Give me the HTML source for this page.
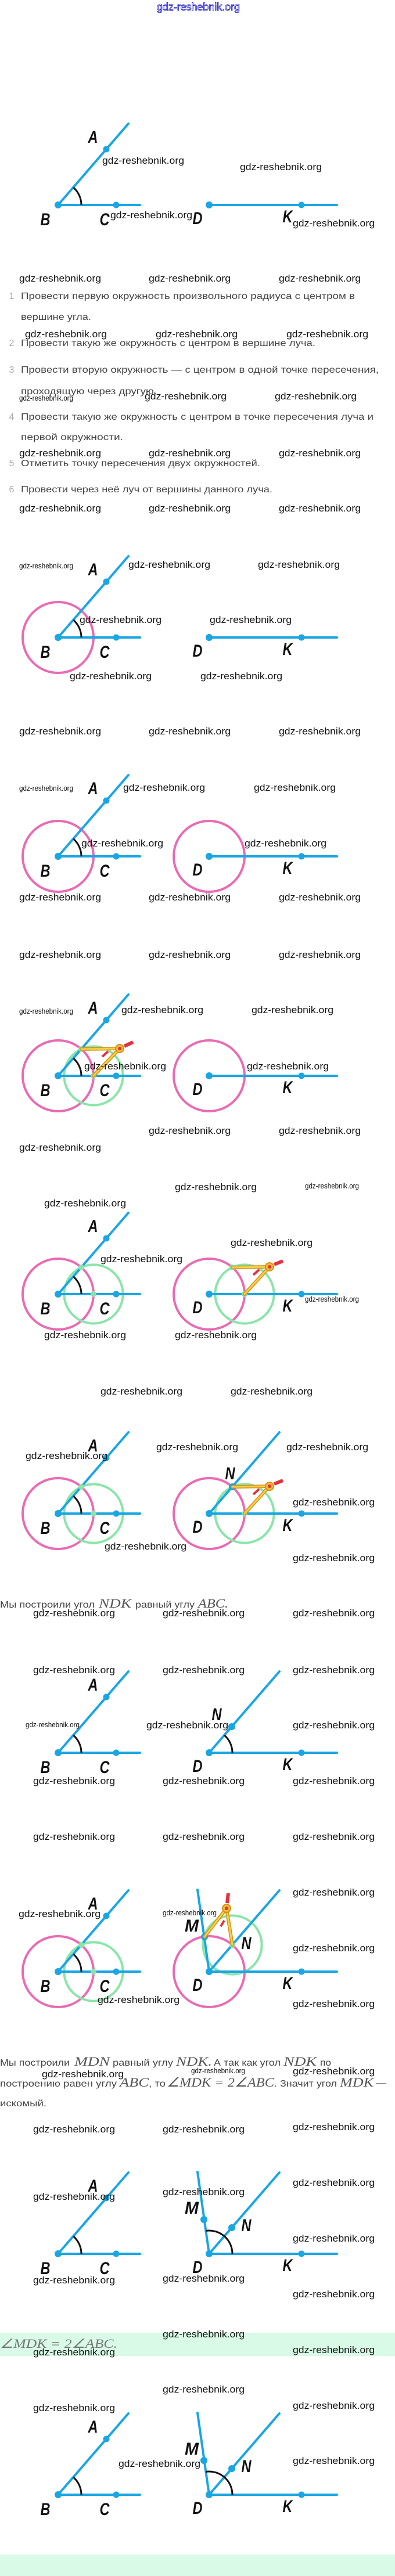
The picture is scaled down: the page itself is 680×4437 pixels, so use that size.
<!DOCTYPE html>
<html><head><meta charset="utf-8"><style>
html,body{margin:0;padding:0;background:#fff;}
svg{display:block;}
.b{stroke:#19a6e3;stroke-width:4;stroke-linecap:round;fill:none}
.bd{fill:#19a6e3}
.k{stroke:#111;stroke-width:3;fill:none}
.p{stroke:#ea6ab4;stroke-width:4;fill:none}
.g{stroke:#8ae5a8;stroke-width:4;fill:none}
.gd{fill:#8ae5a8}
.L{font-family:"Liberation Sans",sans-serif;font-weight:bold;font-style:italic;font-size:30px;fill:#111;text-anchor:middle}
.w{font-family:"Liberation Sans",sans-serif;font-size:17px;fill:#111}
.ws{font-size:13px}
.t{font-family:"Liberation Sans","DejaVu Sans",sans-serif;font-size:16px;fill:#444}
.n{fill:#aaa}
.m{font-family:"Liberation Serif",serif;font-style:italic;font-size:22px;fill:#555}
.co{stroke:#d4931c;stroke-width:6;stroke-linecap:round;fill:none}
.ci{stroke:#f6cf48;stroke-width:3;stroke-linecap:round;fill:none}
.cr{stroke:#e2323e;stroke-width:6;fill:none}
.cm{stroke:#e2323e;stroke-width:4;fill:none}
</style></head><body>
<svg width="680" height="4437" viewBox="0 0 680 4437" xmlns="http://www.w3.org/2000/svg">
<rect x="0" y="0" width="680" height="4437" fill="#fff"/>
<rect x="0" y="4018" width="680" height="40" fill="#d8fae6"/>
<rect x="0" y="4400" width="680" height="37" fill="#d8fae6"/>

<!-- top watermark -->
<text x="270" y="18" textLength="143" lengthAdjust="spacingAndGlyphs" style="font-family:'Liberation Sans',sans-serif;font-size:18px;fill:#fff;stroke:#2424c8;stroke-width:0.9">gdz-reshebnik.org</text>

<!-- FIG 1 -->
<g transform="translate(0,353)">
<line x1="100" y1="0" x2="241" y2="0" class="b"/><line x1="100" y1="0" x2="221" y2="-140" class="b"/>
<path d="M140 0A40 40 0 0 0 126.2 -30.2" class="k"/>
<circle cx="100" cy="0" r="6" class="bd"/><circle cx="200" cy="0" r="5.5" class="bd"/><circle cx="183" cy="-96" r="5.5" class="bd"/>
<text x="160" y="-107" class="L" textLength="17" lengthAdjust="spacingAndGlyphs">A</text>
<text x="78" y="35" class="L" textLength="17" lengthAdjust="spacingAndGlyphs">B</text>
<text x="180" y="35" class="L" textLength="17" lengthAdjust="spacingAndGlyphs">C</text>
<line x1="360" y1="0" x2="580" y2="0" class="b"/><circle cx="360" cy="0" r="6" class="bd"/><circle cx="519" cy="0" r="5.5" class="bd"/>
<text x="340" y="33" class="L" textLength="17" lengthAdjust="spacingAndGlyphs">D</text>
<text x="495" y="30" class="L" textLength="17" lengthAdjust="spacingAndGlyphs">K</text>
</g>

<!-- Instructions -->
<text x="20" y="515" class="t n" text-anchor="middle">1</text>
<text x="36" y="515" class="t" textLength="575" lengthAdjust="spacingAndGlyphs">Провести первую окружность произвольного радиуса с центром в</text>
<text x="36" y="551" class="t" textLength="121" lengthAdjust="spacingAndGlyphs">вершине угла.</text>
<text x="20" y="596" class="t n" text-anchor="middle">2</text>
<text x="36" y="596" class="t" textLength="507" lengthAdjust="spacingAndGlyphs">Провести такую же окружность с центром в вершине луча.</text>
<text x="20" y="642" class="t n" text-anchor="middle">3</text>
<text x="36" y="642" class="t" textLength="616" lengthAdjust="spacingAndGlyphs">Провести вторую окружность — с центром в одной точке пересечения,</text>
<text x="36" y="679" class="t" textLength="234" lengthAdjust="spacingAndGlyphs">проходящую через другую.</text>
<text x="20" y="723" class="t n" text-anchor="middle">4</text>
<text x="36" y="723" class="t" textLength="607" lengthAdjust="spacingAndGlyphs">Провести такую же окружность с центром в точке пересечения луча и</text>
<text x="36" y="758" class="t" textLength="176" lengthAdjust="spacingAndGlyphs">первой окружности.</text>
<text x="20" y="803" class="t n" text-anchor="middle">5</text>
<text x="36" y="803" class="t" textLength="412" lengthAdjust="spacingAndGlyphs">Отметить точку пересечения двух окружностей.</text>
<text x="20" y="848" class="t n" text-anchor="middle">6</text>
<text x="36" y="848" class="t" textLength="433" lengthAdjust="spacingAndGlyphs">Провести через неё луч от вершины данного луча.</text>

<!-- FIG 2 -->
<g transform="translate(0,1098)">
<circle cx="100" cy="0" r="61" class="p"/>
<line x1="100" y1="0" x2="241" y2="0" class="b"/><line x1="100" y1="0" x2="221" y2="-140" class="b"/>
<path d="M140 0A40 40 0 0 0 126.2 -30.2" class="k"/>
<circle cx="100" cy="0" r="6" class="bd"/><circle cx="200" cy="0" r="5.5" class="bd"/><circle cx="183" cy="-96" r="5.5" class="bd"/>
<text x="160" y="-107" class="L" textLength="17" lengthAdjust="spacingAndGlyphs">A</text>
<text x="78" y="35" class="L" textLength="17" lengthAdjust="spacingAndGlyphs">B</text>
<text x="180" y="35" class="L" textLength="17" lengthAdjust="spacingAndGlyphs">C</text>
<line x1="360" y1="0" x2="580" y2="0" class="b"/><circle cx="360" cy="0" r="6" class="bd"/><circle cx="519" cy="0" r="5.5" class="bd"/>
<text x="340" y="33" class="L" textLength="17" lengthAdjust="spacingAndGlyphs">D</text>
<text x="495" y="30" class="L" textLength="17" lengthAdjust="spacingAndGlyphs">K</text>
</g>

<!-- FIG 3 -->
<g transform="translate(0,1475)">
<circle cx="100" cy="0" r="61" class="p"/>
<line x1="100" y1="0" x2="241" y2="0" class="b"/><line x1="100" y1="0" x2="221" y2="-140" class="b"/>
<path d="M140 0A40 40 0 0 0 126.2 -30.2" class="k"/>
<circle cx="100" cy="0" r="6" class="bd"/><circle cx="200" cy="0" r="5.5" class="bd"/><circle cx="183" cy="-96" r="5.5" class="bd"/>
<text x="160" y="-107" class="L" textLength="17" lengthAdjust="spacingAndGlyphs">A</text>
<text x="78" y="35" class="L" textLength="17" lengthAdjust="spacingAndGlyphs">B</text>
<text x="180" y="35" class="L" textLength="17" lengthAdjust="spacingAndGlyphs">C</text>
<circle cx="360" cy="0" r="61" class="p"/>
<line x1="360" y1="0" x2="580" y2="0" class="b"/><circle cx="360" cy="0" r="6" class="bd"/><circle cx="519" cy="0" r="5.5" class="bd"/>
<text x="340" y="33" class="L" textLength="17" lengthAdjust="spacingAndGlyphs">D</text>
<text x="495" y="30" class="L" textLength="17" lengthAdjust="spacingAndGlyphs">K</text>
</g>

<!-- FIG 4 -->
<g transform="translate(0,1853)">
<circle cx="100" cy="0" r="61" class="p"/>
<circle cx="161" cy="0" r="50.6" class="g"/>
<line x1="100" y1="0" x2="241" y2="0" class="b"/><line x1="100" y1="0" x2="221" y2="-140" class="b"/>
<path d="M140 0A40 40 0 0 0 126.2 -30.2" class="k"/>
<circle cx="100" cy="0" r="6" class="bd"/><circle cx="200" cy="0" r="5.5" class="bd"/><circle cx="183" cy="-96" r="5.5" class="bd"/>
<circle cx="140" cy="-46" r="5" class="gd"/><circle cx="161" cy="0" r="5" class="gd"/>
<line x1="206" y1="-47" x2="140" y2="-46" class="co"/><line x1="206" y1="-47" x2="161" y2="0" class="co"/>
<line x1="206" y1="-47" x2="140" y2="-46" class="ci"/><line x1="206" y1="-47" x2="161" y2="0" class="ci"/>
<line x1="214" y1="-51" x2="229" y2="-58" class="cr"/>
<line x1="176" y1="-33" x2="186" y2="-42" class="cm"/>
<circle cx="206" cy="-47" r="7" fill="#f3b93a" stroke="#d4931c" stroke-width="2"/><circle cx="206" cy="-47" r="3" fill="#e2323e"/>
<text x="160" y="-107" class="L" textLength="17" lengthAdjust="spacingAndGlyphs">A</text>
<text x="78" y="35" class="L" textLength="17" lengthAdjust="spacingAndGlyphs">B</text>
<text x="180" y="35" class="L" textLength="17" lengthAdjust="spacingAndGlyphs">C</text>
<circle cx="360" cy="0" r="61" class="p"/>
<line x1="360" y1="0" x2="580" y2="0" class="b"/><circle cx="360" cy="0" r="6" class="bd"/><circle cx="519" cy="0" r="5.5" class="bd"/>
<text x="340" y="33" class="L" textLength="17" lengthAdjust="spacingAndGlyphs">D</text>
<text x="495" y="30" class="L" textLength="17" lengthAdjust="spacingAndGlyphs">K</text>
</g>

<!-- FIG 5 -->
<g transform="translate(0,2229)">
<circle cx="100" cy="0" r="61" class="p"/>
<circle cx="161" cy="0" r="50.6" class="g"/>
<line x1="100" y1="0" x2="241" y2="0" class="b"/><line x1="100" y1="0" x2="221" y2="-140" class="b"/>
<path d="M140 0A40 40 0 0 0 126.2 -30.2" class="k"/>
<circle cx="100" cy="0" r="6" class="bd"/><circle cx="200" cy="0" r="5.5" class="bd"/><circle cx="183" cy="-96" r="5.5" class="bd"/>
<circle cx="140" cy="-46" r="5" class="gd"/><circle cx="161" cy="0" r="5" class="gd"/>
<text x="160" y="-107" class="L" textLength="17" lengthAdjust="spacingAndGlyphs">A</text>
<text x="78" y="35" class="L" textLength="17" lengthAdjust="spacingAndGlyphs">B</text>
<text x="180" y="35" class="L" textLength="17" lengthAdjust="spacingAndGlyphs">C</text>
<circle cx="360" cy="0" r="61" class="p"/>
<circle cx="421" cy="0" r="50.6" class="g"/>
<line x1="360" y1="0" x2="580" y2="0" class="b"/><circle cx="360" cy="0" r="6" class="bd"/><circle cx="519" cy="0" r="5.5" class="bd"/>
<circle cx="400" cy="-46" r="5" class="gd"/><circle cx="421" cy="0" r="5" class="gd"/>
<line x1="464" y1="-47" x2="400" y2="-46" class="co"/><line x1="464" y1="-47" x2="421" y2="0" class="co"/>
<line x1="464" y1="-47" x2="400" y2="-46" class="ci"/><line x1="464" y1="-47" x2="421" y2="0" class="ci"/>
<line x1="472" y1="-51" x2="487" y2="-57" class="cr"/>
<line x1="436" y1="-33" x2="446" y2="-42" class="cm"/>
<circle cx="464" cy="-47" r="7" fill="#f3b93a" stroke="#d4931c" stroke-width="2"/><circle cx="464" cy="-47" r="3" fill="#e2323e"/>
<text x="340" y="33" class="L" textLength="17" lengthAdjust="spacingAndGlyphs">D</text>
<text x="495" y="30" class="L" textLength="17" lengthAdjust="spacingAndGlyphs">K</text>
</g>

<!-- FIG 6 -->
<g transform="translate(0,2607)">
<circle cx="100" cy="0" r="61" class="p"/>
<circle cx="161" cy="0" r="50.6" class="g"/>
<line x1="100" y1="0" x2="241" y2="0" class="b"/><line x1="100" y1="0" x2="221" y2="-140" class="b"/>
<path d="M140 0A40 40 0 0 0 126.2 -30.2" class="k"/>
<circle cx="100" cy="0" r="6" class="bd"/><circle cx="200" cy="0" r="5.5" class="bd"/><circle cx="183" cy="-96" r="5.5" class="bd"/>
<circle cx="140" cy="-46" r="5" class="gd"/><circle cx="161" cy="0" r="5" class="gd"/>
<text x="160" y="-107" class="L" textLength="17" lengthAdjust="spacingAndGlyphs">A</text>
<text x="78" y="35" class="L" textLength="17" lengthAdjust="spacingAndGlyphs">B</text>
<text x="180" y="35" class="L" textLength="17" lengthAdjust="spacingAndGlyphs">C</text>
<circle cx="360" cy="0" r="61" class="p"/>
<circle cx="421" cy="0" r="50.6" class="g"/>
<line x1="360" y1="0" x2="580" y2="0" class="b"/><line x1="360" y1="0" x2="481" y2="-140" class="b"/>
<circle cx="360" cy="0" r="6" class="bd"/><circle cx="519" cy="0" r="5.5" class="bd"/>
<circle cx="400" cy="-46" r="6" class="bd"/><circle cx="421" cy="0" r="5" class="gd"/>
<line x1="464" y1="-47" x2="400" y2="-46" class="co"/><line x1="464" y1="-47" x2="421" y2="0" class="co"/>
<line x1="464" y1="-47" x2="400" y2="-46" class="ci"/><line x1="464" y1="-47" x2="421" y2="0" class="ci"/>
<line x1="472" y1="-51" x2="487" y2="-57" class="cr"/>
<line x1="436" y1="-33" x2="446" y2="-42" class="cm"/>
<circle cx="464" cy="-47" r="7" fill="#f3b93a" stroke="#d4931c" stroke-width="2"/><circle cx="464" cy="-47" r="3" fill="#e2323e"/>
<text x="396" y="-59" class="L" textLength="17" lengthAdjust="spacingAndGlyphs">N</text>
<text x="340" y="33" class="L" textLength="17" lengthAdjust="spacingAndGlyphs">D</text>
<text x="495" y="30" class="L" textLength="17" lengthAdjust="spacingAndGlyphs">K</text>
</g>

<!-- sentence 1 -->
<text x="0" y="2769" class="t" textLength="163" lengthAdjust="spacingAndGlyphs">Мы построили угол</text>
<text x="170" y="2769" class="m" textLength="56" lengthAdjust="spacingAndGlyphs">NDK</text>
<text x="233" y="2769" class="t" textLength="102" lengthAdjust="spacingAndGlyphs">равный углу</text>
<text x="341" y="2769" class="m" textLength="52" lengthAdjust="spacingAndGlyphs">ABC.</text>

<!-- FIG 7 -->
<g transform="translate(0,3019)">
<line x1="100" y1="0" x2="241" y2="0" class="b"/><line x1="100" y1="0" x2="221" y2="-140" class="b"/>
<path d="M140 0A40 40 0 0 0 126.2 -30.2" class="k"/>
<circle cx="100" cy="0" r="6" class="bd"/><circle cx="200" cy="0" r="5.5" class="bd"/><circle cx="183" cy="-96" r="5.5" class="bd"/>
<text x="160" y="-107" class="L" textLength="17" lengthAdjust="spacingAndGlyphs">A</text>
<text x="78" y="35" class="L" textLength="17" lengthAdjust="spacingAndGlyphs">B</text>
<text x="180" y="35" class="L" textLength="17" lengthAdjust="spacingAndGlyphs">C</text>
<line x1="360" y1="0" x2="580" y2="0" class="b"/><line x1="360" y1="0" x2="481" y2="-140" class="b"/>
<path d="M400 0A40 40 0 0 0 386.2 -30.2" class="k"/>
<circle cx="360" cy="0" r="6" class="bd"/><circle cx="519" cy="0" r="5.5" class="bd"/><circle cx="399" cy="-45" r="6" class="bd"/>
<text x="373" y="-56" class="L" textLength="17" lengthAdjust="spacingAndGlyphs">N</text>
<text x="340" y="33" class="L" textLength="17" lengthAdjust="spacingAndGlyphs">D</text>
<text x="495" y="30" class="L" textLength="17" lengthAdjust="spacingAndGlyphs">K</text>
</g>

<!-- FIG 8 -->
<g transform="translate(0,3396)">
<circle cx="100" cy="0" r="61" class="p"/>
<circle cx="161" cy="0" r="50.6" class="g"/>
<line x1="100" y1="0" x2="241" y2="0" class="b"/><line x1="100" y1="0" x2="221" y2="-140" class="b"/>
<path d="M140 0A40 40 0 0 0 126.2 -30.2" class="k"/>
<circle cx="100" cy="0" r="6" class="bd"/><circle cx="200" cy="0" r="5.5" class="bd"/><circle cx="183" cy="-96" r="5.5" class="bd"/>
<circle cx="140" cy="-46" r="5" class="gd"/><circle cx="161" cy="0" r="5" class="gd"/>
<text x="160" y="-107" class="L" textLength="17" lengthAdjust="spacingAndGlyphs">A</text>
<text x="78" y="35" class="L" textLength="17" lengthAdjust="spacingAndGlyphs">B</text>
<text x="180" y="35" class="L" textLength="17" lengthAdjust="spacingAndGlyphs">C</text>
<circle cx="360" cy="0" r="61" class="p"/>
<circle cx="400" cy="-46" r="50.6" class="g"/>
<line x1="360" y1="0" x2="580" y2="0" class="b"/><line x1="360" y1="0" x2="481" y2="-140" class="b"/><line x1="360" y1="0" x2="340" y2="-141" class="b"/>
<circle cx="360" cy="0" r="6" class="bd"/><circle cx="519" cy="0" r="5.5" class="bd"/>
<circle cx="352" cy="-60" r="6" class="bd"/><circle cx="400" cy="-46" r="5" class="gd"/>
<line x1="390" y1="-109" x2="352" y2="-60" class="co"/><line x1="390" y1="-109" x2="400" y2="-46" class="co"/>
<line x1="390" y1="-109" x2="352" y2="-60" class="ci"/><line x1="390" y1="-109" x2="400" y2="-46" class="ci"/>
<line x1="391" y1="-118" x2="393" y2="-135" class="cr"/>
<line x1="380" y1="-78" x2="386" y2="-88" class="cm"/>
<circle cx="390" cy="-109" r="7" fill="#f3b93a" stroke="#d4931c" stroke-width="2"/><circle cx="390" cy="-109" r="3" fill="#e2323e"/>
<text x="330" y="-69" class="L" textLength="24" lengthAdjust="spacingAndGlyphs">M</text>
<text x="424" y="-39" class="L" textLength="17" lengthAdjust="spacingAndGlyphs">N</text>
<text x="340" y="33" class="L" textLength="17" lengthAdjust="spacingAndGlyphs">D</text>
<text x="495" y="30" class="L" textLength="17" lengthAdjust="spacingAndGlyphs">K</text>
</g>

<!-- sentence 2 -->
<text x="0" y="3558" class="t" textLength="120" lengthAdjust="spacingAndGlyphs">Мы построили</text>
<text x="128" y="3558" class="m" textLength="61" lengthAdjust="spacingAndGlyphs">MDN</text>
<text x="194" y="3558" class="t" textLength="104" lengthAdjust="spacingAndGlyphs">равный углу</text>
<text x="303" y="3558" class="m" textLength="62" lengthAdjust="spacingAndGlyphs">NDK.</text>
<text x="368" y="3558" class="t" textLength="115" lengthAdjust="spacingAndGlyphs">А так как угол</text>
<text x="488" y="3558" class="m" textLength="57" lengthAdjust="spacingAndGlyphs">NDK</text>
<text x="551" y="3558" class="t" textLength="19" lengthAdjust="spacingAndGlyphs">по</text>
<text x="0" y="3594" class="t" textLength="201" lengthAdjust="spacingAndGlyphs">построению равен углу</text>
<text x="206" y="3594" class="m" textLength="50" lengthAdjust="spacingAndGlyphs">ABC</text>
<text x="256" y="3594" class="t" textLength="29" lengthAdjust="spacingAndGlyphs">, то</text>
<text x="287" y="3594" class="m" textLength="185" lengthAdjust="spacingAndGlyphs">∠MDK = 2∠ABC</text>
<text x="472" y="3594" class="t" textLength="108" lengthAdjust="spacingAndGlyphs">. Значит угол</text>
<text x="585" y="3594" class="m" textLength="58" lengthAdjust="spacingAndGlyphs">MDK</text>
<text x="647" y="3594" class="m" textLength="18" lengthAdjust="spacingAndGlyphs">—</text>
<text x="0" y="3628" class="t" textLength="80" lengthAdjust="spacingAndGlyphs">искомый.</text>

<!-- FIG 9 -->
<g transform="translate(0,3882)">
<line x1="100" y1="0" x2="241" y2="0" class="b"/><line x1="100" y1="0" x2="221" y2="-140" class="b"/>
<path d="M140 0A40 40 0 0 0 126.2 -30.2" class="k"/>
<circle cx="100" cy="0" r="6" class="bd"/><circle cx="200" cy="0" r="5.5" class="bd"/><circle cx="183" cy="-96" r="5.5" class="bd"/>
<text x="160" y="-107" class="L" textLength="17" lengthAdjust="spacingAndGlyphs">A</text>
<text x="78" y="35" class="L" textLength="17" lengthAdjust="spacingAndGlyphs">B</text>
<text x="180" y="35" class="L" textLength="17" lengthAdjust="spacingAndGlyphs">C</text>
<line x1="360" y1="0" x2="580" y2="0" class="b"/><line x1="360" y1="0" x2="481" y2="-140" class="b"/><line x1="360" y1="0" x2="340" y2="-141" class="b"/>
<path d="M400 0A40 40 0 0 0 354.4 -39.6" class="k"/>
<circle cx="360" cy="0" r="6" class="bd"/><circle cx="519" cy="0" r="5.5" class="bd"/>
<circle cx="351" cy="-59" r="6" class="bd"/><circle cx="399" cy="-45" r="6" class="bd"/>
<text x="330" y="-69" class="L" textLength="24" lengthAdjust="spacingAndGlyphs">M</text>
<text x="424" y="-39" class="L" textLength="17" lengthAdjust="spacingAndGlyphs">N</text>
<text x="340" y="33" class="L" textLength="17" lengthAdjust="spacingAndGlyphs">D</text>
<text x="495" y="30" class="L" textLength="17" lengthAdjust="spacingAndGlyphs">K</text>
</g>

<!-- formula band -->
<text x="0" y="4044" class="m" style="fill:#777" textLength="202" lengthAdjust="spacingAndGlyphs">∠MDK = 2∠ABC.</text>

<!-- FIG 10 -->
<g transform="translate(0,4297)">
<line x1="100" y1="0" x2="241" y2="0" class="b"/><line x1="100" y1="0" x2="221" y2="-140" class="b"/>
<path d="M140 0A40 40 0 0 0 126.2 -30.2" class="k"/>
<circle cx="100" cy="0" r="6" class="bd"/><circle cx="200" cy="0" r="5.5" class="bd"/><circle cx="183" cy="-96" r="5.5" class="bd"/>
<text x="160" y="-107" class="L" textLength="17" lengthAdjust="spacingAndGlyphs">A</text>
<text x="78" y="35" class="L" textLength="17" lengthAdjust="spacingAndGlyphs">B</text>
<text x="180" y="35" class="L" textLength="17" lengthAdjust="spacingAndGlyphs">C</text>
<line x1="360" y1="0" x2="580" y2="0" class="b"/><line x1="360" y1="0" x2="481" y2="-140" class="b"/><line x1="360" y1="0" x2="340" y2="-141" class="b"/>
<path d="M400 0A40 40 0 0 0 354.4 -39.6" class="k"/>
<circle cx="360" cy="0" r="6" class="bd"/><circle cx="519" cy="0" r="5.5" class="bd"/>
<circle cx="351" cy="-59" r="6" class="bd"/><circle cx="399" cy="-45" r="6" class="bd"/>
<text x="330" y="-69" class="L" textLength="24" lengthAdjust="spacingAndGlyphs">M</text>
<text x="424" y="-39" class="L" textLength="17" lengthAdjust="spacingAndGlyphs">N</text>
<text x="340" y="33" class="L" textLength="17" lengthAdjust="spacingAndGlyphs">D</text>
<text x="495" y="30" class="L" textLength="17" lengthAdjust="spacingAndGlyphs">K</text>
</g>

<!-- watermarks (normal) -->
<g class="w">
<text x="176" y="282" textLength="141" lengthAdjust="spacingAndGlyphs">gdz-reshebnik.org</text>
<text x="413" y="293" textLength="141" lengthAdjust="spacingAndGlyphs">gdz-reshebnik.org</text>
<text x="190" y="376" textLength="141" lengthAdjust="spacingAndGlyphs">gdz-reshebnik.org</text>
<text x="504" y="390" textLength="141" lengthAdjust="spacingAndGlyphs">gdz-reshebnik.org</text>
<text x="33" y="485" textLength="141" lengthAdjust="spacingAndGlyphs">gdz-reshebnik.org</text>
<text x="256" y="485" textLength="141" lengthAdjust="spacingAndGlyphs">gdz-reshebnik.org</text>
<text x="480" y="485" textLength="141" lengthAdjust="spacingAndGlyphs">gdz-reshebnik.org</text>
<text x="43" y="581" textLength="141" lengthAdjust="spacingAndGlyphs">gdz-reshebnik.org</text>
<text x="268" y="581" textLength="141" lengthAdjust="spacingAndGlyphs">gdz-reshebnik.org</text>
<text x="493" y="581" textLength="141" lengthAdjust="spacingAndGlyphs">gdz-reshebnik.org</text>
<text x="249" y="688" textLength="141" lengthAdjust="spacingAndGlyphs">gdz-reshebnik.org</text>
<text x="473" y="688" textLength="141" lengthAdjust="spacingAndGlyphs">gdz-reshebnik.org</text>
<text x="33" y="786" textLength="141" lengthAdjust="spacingAndGlyphs">gdz-reshebnik.org</text>
<text x="256" y="786" textLength="141" lengthAdjust="spacingAndGlyphs">gdz-reshebnik.org</text>
<text x="480" y="786" textLength="141" lengthAdjust="spacingAndGlyphs">gdz-reshebnik.org</text>
<text x="33" y="881" textLength="141" lengthAdjust="spacingAndGlyphs">gdz-reshebnik.org</text>
<text x="256" y="881" textLength="141" lengthAdjust="spacingAndGlyphs">gdz-reshebnik.org</text>
<text x="480" y="881" textLength="141" lengthAdjust="spacingAndGlyphs">gdz-reshebnik.org</text>
<text x="221" y="978" textLength="141" lengthAdjust="spacingAndGlyphs">gdz-reshebnik.org</text>
<text x="444" y="978" textLength="141" lengthAdjust="spacingAndGlyphs">gdz-reshebnik.org</text>
<text x="137" y="1073" textLength="141" lengthAdjust="spacingAndGlyphs">gdz-reshebnik.org</text>
<text x="361" y="1073" textLength="141" lengthAdjust="spacingAndGlyphs">gdz-reshebnik.org</text>
<text x="120" y="1170" textLength="141" lengthAdjust="spacingAndGlyphs">gdz-reshebnik.org</text>
<text x="345" y="1170" textLength="141" lengthAdjust="spacingAndGlyphs">gdz-reshebnik.org</text>
<text x="33" y="1265" textLength="141" lengthAdjust="spacingAndGlyphs">gdz-reshebnik.org</text>
<text x="256" y="1265" textLength="141" lengthAdjust="spacingAndGlyphs">gdz-reshebnik.org</text>
<text x="480" y="1265" textLength="141" lengthAdjust="spacingAndGlyphs">gdz-reshebnik.org</text>
<text x="212" y="1362" textLength="141" lengthAdjust="spacingAndGlyphs">gdz-reshebnik.org</text>
<text x="437" y="1362" textLength="141" lengthAdjust="spacingAndGlyphs">gdz-reshebnik.org</text>
<text x="140" y="1458" textLength="141" lengthAdjust="spacingAndGlyphs">gdz-reshebnik.org</text>
<text x="421" y="1458" textLength="141" lengthAdjust="spacingAndGlyphs">gdz-reshebnik.org</text>
<text x="33" y="1551" textLength="141" lengthAdjust="spacingAndGlyphs">gdz-reshebnik.org</text>
<text x="256" y="1551" textLength="141" lengthAdjust="spacingAndGlyphs">gdz-reshebnik.org</text>
<text x="480" y="1551" textLength="141" lengthAdjust="spacingAndGlyphs">gdz-reshebnik.org</text>
<text x="33" y="1650" textLength="141" lengthAdjust="spacingAndGlyphs">gdz-reshebnik.org</text>
<text x="256" y="1650" textLength="141" lengthAdjust="spacingAndGlyphs">gdz-reshebnik.org</text>
<text x="480" y="1650" textLength="141" lengthAdjust="spacingAndGlyphs">gdz-reshebnik.org</text>
<text x="209" y="1745" textLength="141" lengthAdjust="spacingAndGlyphs">gdz-reshebnik.org</text>
<text x="433" y="1745" textLength="141" lengthAdjust="spacingAndGlyphs">gdz-reshebnik.org</text>
<text x="145" y="1842" textLength="141" lengthAdjust="spacingAndGlyphs">gdz-reshebnik.org</text>
<text x="425" y="1842" textLength="141" lengthAdjust="spacingAndGlyphs">gdz-reshebnik.org</text>
<text x="256" y="1953" textLength="141" lengthAdjust="spacingAndGlyphs">gdz-reshebnik.org</text>
<text x="480" y="1953" textLength="141" lengthAdjust="spacingAndGlyphs">gdz-reshebnik.org</text>
<text x="33" y="1982" textLength="141" lengthAdjust="spacingAndGlyphs">gdz-reshebnik.org</text>
<text x="301" y="2050" textLength="141" lengthAdjust="spacingAndGlyphs">gdz-reshebnik.org</text>
<text x="76" y="2078" textLength="141" lengthAdjust="spacingAndGlyphs">gdz-reshebnik.org</text>
<text x="397" y="2146" textLength="141" lengthAdjust="spacingAndGlyphs">gdz-reshebnik.org</text>
<text x="173" y="2174" textLength="141" lengthAdjust="spacingAndGlyphs">gdz-reshebnik.org</text>
<text x="76" y="2305" textLength="141" lengthAdjust="spacingAndGlyphs">gdz-reshebnik.org</text>
<text x="301" y="2305" textLength="141" lengthAdjust="spacingAndGlyphs">gdz-reshebnik.org</text>
<text x="173" y="2402" textLength="141" lengthAdjust="spacingAndGlyphs">gdz-reshebnik.org</text>
<text x="397" y="2402" textLength="141" lengthAdjust="spacingAndGlyphs">gdz-reshebnik.org</text>
<text x="44" y="2513" textLength="141" lengthAdjust="spacingAndGlyphs">gdz-reshebnik.org</text>
<text x="269" y="2498" textLength="141" lengthAdjust="spacingAndGlyphs">gdz-reshebnik.org</text>
<text x="493" y="2498" textLength="141" lengthAdjust="spacingAndGlyphs">gdz-reshebnik.org</text>
<text x="504" y="2593" textLength="141" lengthAdjust="spacingAndGlyphs">gdz-reshebnik.org</text>
<text x="180" y="2669" textLength="141" lengthAdjust="spacingAndGlyphs">gdz-reshebnik.org</text>
<text x="504" y="2689" textLength="141" lengthAdjust="spacingAndGlyphs">gdz-reshebnik.org</text>
<text x="57" y="2784" textLength="141" lengthAdjust="spacingAndGlyphs">gdz-reshebnik.org</text>
<text x="280" y="2784" textLength="141" lengthAdjust="spacingAndGlyphs">gdz-reshebnik.org</text>
<text x="504" y="2784" textLength="141" lengthAdjust="spacingAndGlyphs">gdz-reshebnik.org</text>
<text x="57" y="2882" textLength="141" lengthAdjust="spacingAndGlyphs">gdz-reshebnik.org</text>
<text x="280" y="2882" textLength="141" lengthAdjust="spacingAndGlyphs">gdz-reshebnik.org</text>
<text x="504" y="2882" textLength="141" lengthAdjust="spacingAndGlyphs">gdz-reshebnik.org</text>
<text x="252" y="2977" textLength="141" lengthAdjust="spacingAndGlyphs">gdz-reshebnik.org</text>
<text x="504" y="2977" textLength="141" lengthAdjust="spacingAndGlyphs">gdz-reshebnik.org</text>
<text x="57" y="3073" textLength="141" lengthAdjust="spacingAndGlyphs">gdz-reshebnik.org</text>
<text x="280" y="3073" textLength="141" lengthAdjust="spacingAndGlyphs">gdz-reshebnik.org</text>
<text x="504" y="3073" textLength="141" lengthAdjust="spacingAndGlyphs">gdz-reshebnik.org</text>
<text x="57" y="3169" textLength="141" lengthAdjust="spacingAndGlyphs">gdz-reshebnik.org</text>
<text x="280" y="3169" textLength="141" lengthAdjust="spacingAndGlyphs">gdz-reshebnik.org</text>
<text x="504" y="3169" textLength="141" lengthAdjust="spacingAndGlyphs">gdz-reshebnik.org</text>
<text x="504" y="3265" textLength="141" lengthAdjust="spacingAndGlyphs">gdz-reshebnik.org</text>
<text x="32" y="3302" textLength="141" lengthAdjust="spacingAndGlyphs">gdz-reshebnik.org</text>
<text x="504" y="3361" textLength="141" lengthAdjust="spacingAndGlyphs">gdz-reshebnik.org</text>
<text x="168" y="3450" textLength="141" lengthAdjust="spacingAndGlyphs">gdz-reshebnik.org</text>
<text x="504" y="3457" textLength="141" lengthAdjust="spacingAndGlyphs">gdz-reshebnik.org</text>
<text x="72" y="3578" textLength="141" lengthAdjust="spacingAndGlyphs">gdz-reshebnik.org</text>
<text x="504" y="3573" textLength="141" lengthAdjust="spacingAndGlyphs">gdz-reshebnik.org</text>
<text x="57" y="3673" textLength="141" lengthAdjust="spacingAndGlyphs">gdz-reshebnik.org</text>
<text x="280" y="3673" textLength="141" lengthAdjust="spacingAndGlyphs">gdz-reshebnik.org</text>
<text x="504" y="3669" textLength="141" lengthAdjust="spacingAndGlyphs">gdz-reshebnik.org</text>
<text x="504" y="3765" textLength="141" lengthAdjust="spacingAndGlyphs">gdz-reshebnik.org</text>
<text x="280" y="3781" textLength="141" lengthAdjust="spacingAndGlyphs">gdz-reshebnik.org</text>
<text x="57" y="3789" textLength="141" lengthAdjust="spacingAndGlyphs">gdz-reshebnik.org</text>
<text x="504" y="3861" textLength="141" lengthAdjust="spacingAndGlyphs">gdz-reshebnik.org</text>
<text x="57" y="3933" textLength="141" lengthAdjust="spacingAndGlyphs">gdz-reshebnik.org</text>
<text x="280" y="3930" textLength="141" lengthAdjust="spacingAndGlyphs">gdz-reshebnik.org</text>
<text x="504" y="3957" textLength="141" lengthAdjust="spacingAndGlyphs">gdz-reshebnik.org</text>
<text x="280" y="4026" textLength="141" lengthAdjust="spacingAndGlyphs">gdz-reshebnik.org</text>
<text x="57" y="4057" textLength="141" lengthAdjust="spacingAndGlyphs">gdz-reshebnik.org</text>
<text x="504" y="4053" textLength="141" lengthAdjust="spacingAndGlyphs">gdz-reshebnik.org</text>
<text x="280" y="4121" textLength="141" lengthAdjust="spacingAndGlyphs">gdz-reshebnik.org</text>
<text x="57" y="4153" textLength="141" lengthAdjust="spacingAndGlyphs">gdz-reshebnik.org</text>
<text x="504" y="4149" textLength="141" lengthAdjust="spacingAndGlyphs">gdz-reshebnik.org</text>
<text x="504" y="4244" textLength="141" lengthAdjust="spacingAndGlyphs">gdz-reshebnik.org</text>
<text x="204" y="4249" textLength="141" lengthAdjust="spacingAndGlyphs">gdz-reshebnik.org</text>
</g>
<!-- watermarks (small) -->
<g class="w ws">
<text x="33" y="690" textLength="93" lengthAdjust="spacingAndGlyphs">gdz-reshebnik.org</text>
<text x="33" y="979" textLength="93" lengthAdjust="spacingAndGlyphs">gdz-reshebnik.org</text>
<text x="33" y="1362" textLength="93" lengthAdjust="spacingAndGlyphs">gdz-reshebnik.org</text>
<text x="33" y="1746" textLength="93" lengthAdjust="spacingAndGlyphs">gdz-reshebnik.org</text>
<text x="525" y="2047" textLength="93" lengthAdjust="spacingAndGlyphs">gdz-reshebnik.org</text>
<text x="525" y="2242" textLength="93" lengthAdjust="spacingAndGlyphs">gdz-reshebnik.org</text>
<text x="44" y="2975" textLength="93" lengthAdjust="spacingAndGlyphs">gdz-reshebnik.org</text>
<text x="280" y="3299" textLength="93" lengthAdjust="spacingAndGlyphs">gdz-reshebnik.org</text>
<text x="329" y="3571" textLength="93" lengthAdjust="spacingAndGlyphs">gdz-reshebnik.org</text>
</g>
</svg>
</body></html>
